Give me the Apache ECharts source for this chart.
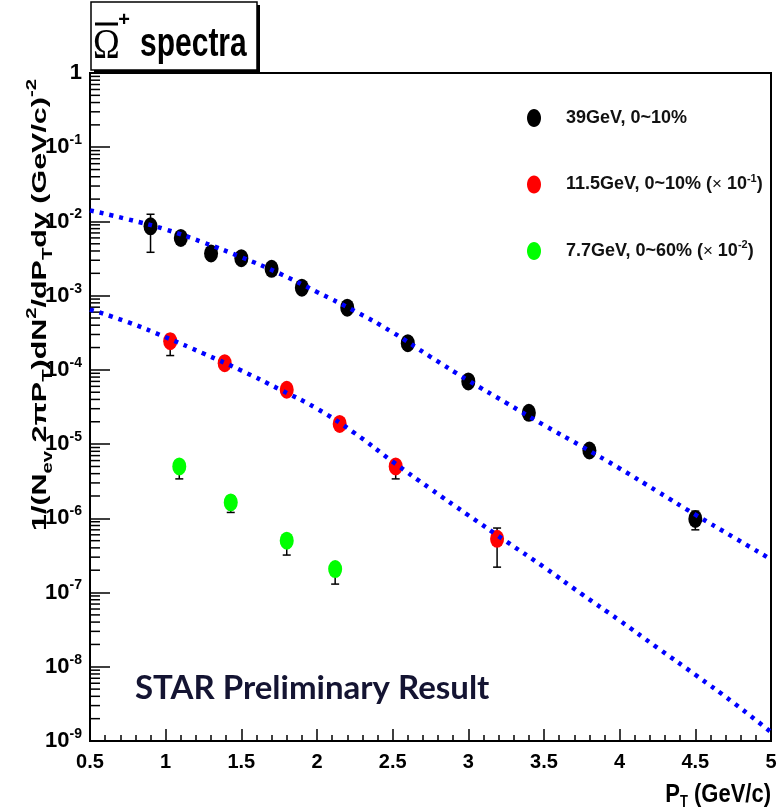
<!DOCTYPE html>
<html>
<head>
<meta charset="utf-8">
<script src="https://cdn.jsdelivr.net/npm/echarts@6/dist/echarts.min.js"></script>
<style>
  html, body { margin: 0; padding: 0; background: #fff; }
  #main { width: 781px; height: 810px; }
</style>
</head>
<body>
<div id="main"></div>
<script>
    // 39GeV, 0~10%
    var pt39 = [0.9, 1.1, 1.3, 1.5, 1.7, 1.9, 2.2, 2.6, 3.0, 3.4, 3.8, 4.5];
    var y39 = [8.6e-3, 6.0e-3, 3.7e-3, 3.2e-3, 2.3e-3, 1.28e-3, 6.9e-4, 2.29e-4, 7.0e-5, 2.64e-5, 8.2e-6, 9.8e-7];
    var lo39 = [3.84e-3, 5.4e-3, 3.3e-3, 2.9e-3, 2.05e-3, 1.15e-3, 6.2e-4, 2.05e-4, 6.3e-5, 2.35e-5, 7.3e-6, 7.0e-7];
    var hi39 = [1.25e-2, 6.6e-3, 4.1e-3, 3.5e-3, 2.55e-3, 1.42e-3, 7.6e-4, 2.55e-4, 7.8e-5, 2.95e-5, 9.2e-6, 1.25e-6];

    // 11.5GeV, 0~10% (x 10^-1)
    var pt11 = [1.03, 1.39, 1.80, 2.15, 2.52, 3.19];
    var y11 = [2.44e-4, 1.23e-4, 5.4e-5, 1.87e-5, 5.0e-6, 5.3e-7];
    var lo11 = [1.56e-4, 1.12e-4, 4.9e-5, 1.7e-5, 3.4e-6, 2.2e-7];
    var hi11 = [3.0e-4, 1.35e-4, 5.9e-5, 2.05e-5, 6.0e-6, 7.4e-7];

    // 7.7GeV, 0~60% (x 10^-2)
    var pt77 = [1.09, 1.43, 1.80, 2.12];
    var y77 = [5.0e-6, 1.64e-6, 5.0e-7, 2.07e-7];
    var lo77 = [3.4e-6, 1.2e-6, 3.2e-7, 1.3e-7];
    var hi77 = [6.0e-6, 2.0e-6, 6.0e-7, 2.5e-7];

    // fit curves (blue dotted)
    var fitX = [0.5, 0.75, 1.0, 1.25, 1.5, 1.75, 2.0, 2.25, 2.5, 2.75, 3.0, 3.25, 3.5, 3.75, 4.0, 4.25, 4.5, 4.75, 5.0];
    var fit39 = [1.41e-2, 1.07e-2, 7.8e-3, 5.2e-3, 3.3e-3, 2.0e-3, 1.12e-3, 6.2e-4, 3.2e-4, 1.5e-4, 7.2e-5, 3.6e-5, 1.8e-5, 9.3e-6, 4.7e-6, 2.3e-6, 1.12e-6, 5.6e-7, 2.8e-7];
    var fit11 = [6.5e-4, 4.4e-4, 2.75e-4, 1.66e-4, 9.8e-5, 5.5e-5, 3.0e-5, 1.4e-5, 5.8e-6, 2.5e-6, 1.1e-6, 4.9e-7, 2.2e-7, 9.5e-8, 4.2e-8, 1.8e-8, 7.8e-9, 3.3e-9, 1.32e-9];

    var names = ['39GeV, 0~10%', '11.5GeV, 0~10% (× 10-1)', '7.7GeV, 0~60% (× 10-2)'];
    var legendRich = {
        '39GeV, 0~10%': '{b|39GeV, 0~10%}',
        '11.5GeV, 0~10% (× 10-1)': '{b|11.5GeV, 0~10% (}{x|×}{b| 10}{sup|-1}{b|)}',
        '7.7GeV, 0~60% (× 10-2)': '{b|7.7GeV, 0~60% (}{x|×}{b| 10}{sup|-2}{b|)}'
    };

    var FONT = "'Liberation Sans', Arial, sans-serif";
    var ellipse = 'path://M7,0 C10.9,0 14,4 14,9 C14,14 10.9,18 7,18 C3.1,18 0,14 0,9 C0,4 3.1,0 7,0 Z';

    function pairs(xs, ys) {
        return xs.map(function (x, i) { return [x, ys[i]]; });
    }
    function errData(xs, lo, hi) {
        return xs.map(function (x, i) { return [x, lo[i], hi[i]]; });
    }

    // log minor ticks 2..9 x 10^n for the left axis
    var yMinor = [];
    for (var e = -9; e < 0; e++) {
        for (var k = 2; k <= 9; k++) yMinor.push([0.5, k * Math.pow(10, e)]);
    }

    function renderErr(params, api) {
        var x = api.value(0);
        var a = api.coord([x, api.value(1)]);
        var b = api.coord([x, api.value(2)]);
        var c = 4;
        var st = { stroke: '#000', lineWidth: 1.5 };
        return {
            type: 'group',
            children: [
                { type: 'line', shape: { x1: a[0], y1: a[1], x2: b[0], y2: b[1] }, style: st },
                { type: 'line', shape: { x1: a[0] - c, y1: a[1], x2: a[0] + c, y2: a[1] }, style: st },
                { type: 'line', shape: { x1: b[0] - c, y1: b[1], x2: b[0] + c, y2: b[1] }, style: st }
            ]
        };
    }

    var chart = echarts.init(document.getElementById('main'));

    var option = {
        animation: false,
        backgroundColor: '#fff',
        grid: {
            left: 90, right: 10, top: 73, bottom: 69,
            show: true, borderColor: '#000', borderWidth: 2
        },
        xAxis: {
            type: 'value', min: 0.5, max: 5, interval: 0.5,
            splitLine: { show: false },
            axisLine: { lineStyle: { color: '#000', width: 2 } },
            axisTick: { inside: true, length: 12, lineStyle: { color: '#000', width: 1.5 } },
            minorTick: { show: true, splitNumber: 5, length: 6, lineStyle: { color: '#000', width: 1.5 } },
            axisLabel: {
                margin: 11, color: '#000', fontSize: 20, fontWeight: 'bold', fontFamily: FONT,
                formatter: function (v) { return String(v); }
            }
        },
        yAxis: {
            type: 'log', logBase: 10, min: 1e-9, max: 1, splitNumber: 10,
            splitLine: { show: false },
            axisLine: { lineStyle: { color: '#000', width: 2 } },
            axisTick: { inside: true, length: 20, lineStyle: { color: '#000', width: 1.5 } },
            axisLabel: {
                margin: 8, color: '#000', fontFamily: FONT,
                formatter: function (v) {
                    var n = Math.round(Math.log(v) / Math.LN10);
                    if (n === 0) return '{b|1}';
                    return '{b|10}{sup|' + n + '}';
                },
                rich: {
                    b: { fontSize: 22, fontWeight: 'bold', fontFamily: FONT, lineHeight: 28, color: '#000' },
                    sup: { fontSize: 14, fontWeight: 'bold', fontFamily: FONT, verticalAlign: 'top', lineHeight: 14, color: '#000' }
                }
            }
        },
        legend: {
            orient: 'vertical', left: 522, top: 104,
            itemWidth: 54, itemHeight: 18, itemGap: 46,
            data: names.map(function (n) { return { name: n, icon: ellipse }; }),
            formatter: function (name) { return legendRich[name]; },
            textStyle: {
                color: '#111',
                rich: {
                    b: { fontSize: 18, fontWeight: 'bold', fontFamily: FONT, lineHeight: 23, color: '#111' },
                    x: { fontSize: 17, fontFamily: FONT, lineHeight: 23, color: '#111' },
                    sup: { fontSize: 11, fontWeight: 'bold', fontFamily: FONT, verticalAlign: 'top', lineHeight: 11, color: '#111' }
                }
            }
        },
        graphic: [
            // title box with shadow
            { type: 'rect', shape: { x: 94, y: 5, width: 166, height: 68 }, style: { fill: '#000' }, z: 100 },
            { type: 'rect', shape: { x: 91, y: 2, width: 166, height: 68 }, style: { fill: '#fff', stroke: '#000', lineWidth: 1.5 }, z: 101 },
            { type: 'text', x: 93, y: 47, scaleY: 1.15, z: 102, style: { text: 'Ω', fill: '#000', font: '36px "Liberation Serif", serif', verticalAlign: 'middle' } },
            { type: 'line', shape: { x1: 95, y1: 24, x2: 118, y2: 24 }, style: { stroke: '#000', lineWidth: 3 }, z: 102 },
            { type: 'text', x: 124, y: 20, z: 102, style: { text: '+', fill: '#000', font: 'bold 20px ' + FONT, align: 'center', verticalAlign: 'middle' } },
            { type: 'text', x: 140, y: 45, scaleY: 1.35, z: 102, style: { text: 'spectra', fill: '#000', font: 'bold 30px ' + FONT, verticalAlign: 'middle' } },
            // y axis title
            {
                type: 'text', x: 40, y: 305, rotation: Math.PI / 2, scaleX: 1.45, z: 50,
                style: {
                    text: '{b|1/(N}{sub|ev}{b| 2πP}{sub|T}{b|)dN}{sup|2}{b|/dP}{sub|T}{b|dy (GeV/c)}{sup|-2}',
                    align: 'center', verticalAlign: 'middle', fill: '#000',
                    rich: {
                        b: { fontSize: 21, fontWeight: 'bold', fontFamily: FONT, lineHeight: 30, fill: '#000' },
                        sub: { fontSize: 14, fontWeight: 'bold', fontFamily: FONT, verticalAlign: 'bottom', lineHeight: 14, fill: '#000' },
                        sup: { fontSize: 14, fontWeight: 'bold', fontFamily: FONT, verticalAlign: 'top', lineHeight: 14, fill: '#000' }
                    }
                }
            },
            // x axis title
            {
                type: 'text', x: 771, y: 795, scaleY: 1.2, z: 50,
                style: {
                    text: '{b|P}{sub|T}{b| (GeV/c)}',
                    fill: '#000', align: 'right', verticalAlign: 'middle',
                    rich: {
                        b: { fontSize: 22, fontWeight: 'bold', fontFamily: FONT, lineHeight: 26, fill: '#000' },
                        sub: { fontSize: 13, fontWeight: 'bold', fontFamily: FONT, verticalAlign: 'bottom', lineHeight: 13, fill: '#000' }
                    }
                }
            },
            {
                type: 'text', x: 135, y: 688, z: 50,
                style: { text: 'STAR Preliminary Result', fill: '#141432', font: 'bold 33px Lato, "Open Sans", sans-serif', verticalAlign: 'middle' }
            }
        ],
        series: [
            {
                name: 'minorTicks', type: 'custom', data: yMinor, silent: true, z: 3,
                renderItem: function (params, api) {
                    var p = api.coord([api.value(0), api.value(1)]);
                    return { type: 'line', shape: { x1: p[0], y1: p[1], x2: p[0] + 10, y2: p[1] }, style: { stroke: '#000', lineWidth: 1.5 } };
                }
            },
            { name: 'err39', type: 'custom', data: errData(pt39, lo39, hi39), renderItem: renderErr, z: 4 },
            { name: 'err11', type: 'custom', data: errData(pt11, lo11, hi11), renderItem: renderErr, z: 4 },
            { name: 'err77', type: 'custom', data: errData(pt77, lo77, hi77), renderItem: renderErr, z: 4 },
            { name: names[0], type: 'scatter', data: pairs(pt39, y39), symbol: 'circle', symbolSize: [14, 18], itemStyle: { color: '#000', opacity: 1 }, z: 5 },
            { name: names[1], type: 'scatter', data: pairs(pt11, y11), symbol: 'circle', symbolSize: [14, 18], itemStyle: { color: '#ff0000', opacity: 1 }, z: 5 },
            { name: names[2], type: 'scatter', data: pairs(pt77, y77), symbol: 'circle', symbolSize: [14, 18], itemStyle: { color: '#00ff00', opacity: 1 }, z: 5 },
            {
                name: 'fit39', type: 'line', data: pairs(fitX, fit39), smooth: true, showSymbol: false, z: 6,
                lineStyle: { color: '#0000ff', width: 4.5, type: [4, 6] }
            },
            {
                name: 'fit11', type: 'line', data: pairs(fitX, fit11), smooth: true, showSymbol: false, z: 6,
                lineStyle: { color: '#0000ff', width: 4.5, type: [4, 6] }
            }
        ]
    };
    chart.setOption(option);
</script>
</body>
</html>
